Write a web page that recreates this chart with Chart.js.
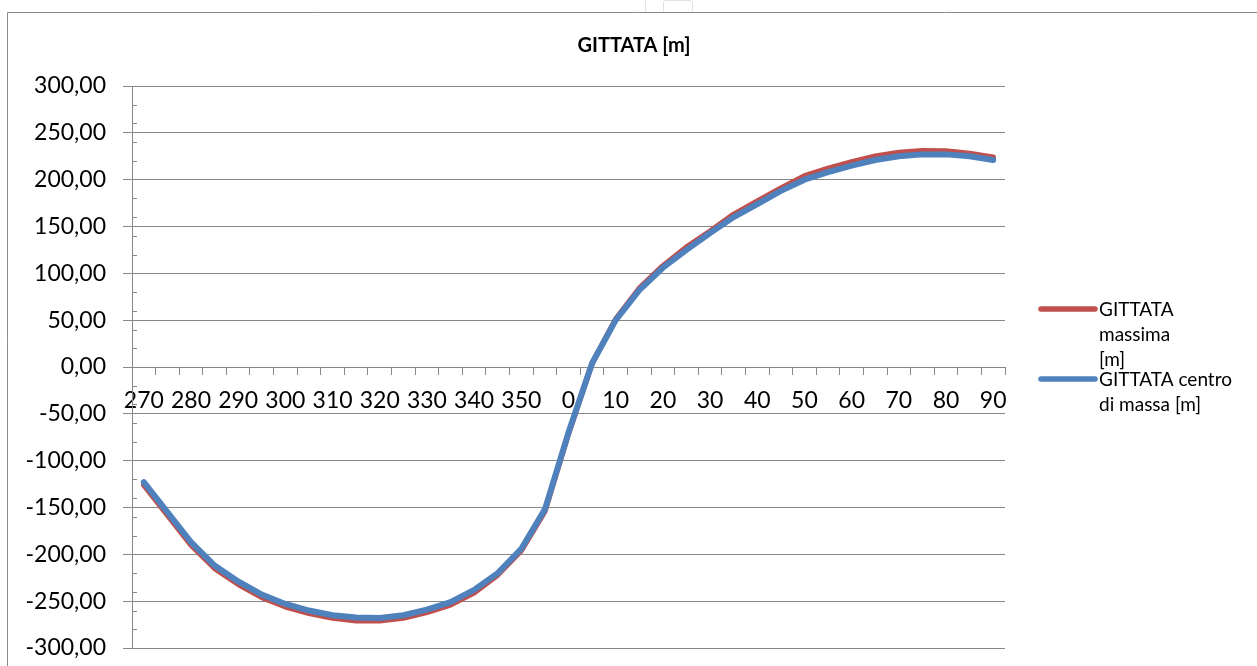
<!DOCTYPE html>
<html>
<head>
<meta charset="utf-8">
<title>GITTATA [m]</title>
<script src="https://cdn.jsdelivr.net/npm/chart.js@4.4.1/dist/chart.umd.min.js"></script>
<style>
  html, body { margin: 0; padding: 0; background: #ffffff; }
  #wrap { width: 1257px; height: 666px; position: relative; }
</style>
</head>
<body>
<div id="wrap"><canvas id="chart" width="1257" height="666"></canvas></div>
<script>
// Angles (degrees) along the category axis
const angles = [270, 275, 280, 285, 290, 295, 300, 305, 310, 315, 320, 325, 330, 335, 340, 345, 350, 355,
                0, 5, 10, 15, 20, 25, 30, 35, 40, 45, 50, 55, 60, 65, 70, 75, 80, 85, 90];

// GITTATA massima [m]
const gittataMassima = [-126, -158, -190, -215, -232, -246, -256, -263, -268, -271, -271, -268, -262, -254, -241, -222, -196, -154,
                        -71, 4, 51, 84, 108, 128, 145, 163, 177, 191, 204, 212, 219, 225, 229, 231, 230.5, 228, 224];

// GITTATA centro di massa [m]
const gittataCentro = [-123, -155, -187, -212, -229, -243, -253, -260, -265, -267.5, -268, -265, -259, -251, -238, -220, -194, -152,
                       -70, 4, 50, 82, 106, 125, 143, 160, 174, 188, 200, 208, 215, 221, 225, 227, 227, 225, 221];

const seriesLabels = ['GITTATA massima [m]', 'GITTATA centro di massa [m]'];
// legend text broken into the lines it is shown on
const legendLines = [['GITTATA', 'massima', '[m]'], ['GITTATA centro', 'di massa [m]']];
const seriesColors = ['#C0504D', '#4F81BD'];
const chartTitle = 'GITTATA [m]';

const GRID = '#878787';

// White background, outer frame and title
const framePlugin = {
  id: 'frame',
  beforeDraw(chart) {
    const ctx = chart.ctx;
    ctx.save();
    ctx.fillStyle = '#ffffff';
    ctx.fillRect(0, 0, chart.width, chart.height);
    ctx.strokeStyle = '#e2e2e2';
    ctx.lineWidth = 1;
    ctx.beginPath();
    ctx.moveTo(645.5, 0); ctx.lineTo(645.5, 12);
    ctx.moveTo(663.5, 12); ctx.lineTo(663.5, 3); ctx.quadraticCurveTo(663.5, 0.5, 666, 0.5);
    ctx.lineTo(690, 0.5); ctx.quadraticCurveTo(692.5, 0.5, 692.5, 3); ctx.lineTo(692.5, 12);
    ctx.stroke();
    ctx.strokeStyle = '#8c8c8c';
    ctx.beginPath();
    ctx.moveTo(7.5, chart.height);
    ctx.lineTo(7.5, 12.5);
    ctx.lineTo(chart.width, 12.5);
    ctx.stroke();
    ctx.restore();
  },
  afterDraw(chart) {
    const ctx = chart.ctx;
    ctx.save();
    ctx.fillStyle = '#000000';
    ctx.font = 'bold 20px Lato';
    ctx.textAlign = 'center';
    ctx.textBaseline = 'middle';
    ctx.fillText(chartTitle, 634, 46);
    ctx.restore();
  }
};

// Minor tick marks every 20 m on the inner side of the value axis
const minorTicksPlugin = {
  id: 'minorTicks',
  afterDatasetsDraw(chart) {
    const y = chart.scales.y;
    const ctx = chart.ctx;
    const left = chart.chartArea.left;
    ctx.save();
    ctx.strokeStyle = GRID;
    ctx.lineWidth = 1;
    ctx.beginPath();
    for (let v = y.min; v <= y.max; v += 20) {
      if (v % 50 === 0) continue;
      const py = Math.round(y.getPixelForValue(v)) + 0.5;
      ctx.moveTo(left, py);
      ctx.lineTo(left + 5, py);
    }
    ctx.stroke();
    ctx.restore();
  }
};

// Legend on the right
const sideLegendPlugin = {
  id: 'sideLegend',
  afterDraw(chart) {
    const ctx = chart.ctx;
    const lineX0 = 1041, lineX1 = 1095, textX = 1099, lineH = 25;
    const rowY = [309, 379];
    ctx.save();
    ctx.font = '19px Lato';
    ctx.textBaseline = 'middle';
    ctx.textAlign = 'left';
    chart.data.datasets.forEach((ds, i) => {
      const yy = rowY[i];
      ctx.strokeStyle = ds.borderColor;
      ctx.lineWidth = 5.5;
      ctx.lineCap = 'round';
      ctx.beginPath();
      ctx.moveTo(lineX0, yy);
      ctx.lineTo(lineX1, yy);
      ctx.stroke();
      ctx.fillStyle = '#000000';
      legendLines[i].forEach((ln, k) => ctx.fillText(ln, textX, yy + 1 + k * lineH));
    });
    ctx.restore();
  }
};

function fmt(v) {
  return v.toFixed(2).replace('.', ',');
}

function zeroVerticalPadding(scale) {
  scale.paddingTop = 0;
  scale.paddingBottom = 0;
}

function build() {
  Chart.defaults.font.family = 'Lato';
  Chart.defaults.color = '#000000';
  new Chart(document.getElementById('chart'), {
    type: 'line',
    data: {
      labels: angles.map(String),
      datasets: [
        {
          label: seriesLabels[0],
          data: gittataMassima,
          borderColor: seriesColors[0],
          backgroundColor: seriesColors[0],
          borderWidth: 5.5,
          pointRadius: 0,
          tension: 0,
          borderCapStyle: 'round',
          borderJoinStyle: 'round',
          order: 1
        },
        {
          label: seriesLabels[1],
          data: gittataCentro,
          borderColor: seriesColors[1],
          backgroundColor: seriesColors[1],
          borderWidth: 6,
          pointRadius: 0,
          tension: 0,
          borderCapStyle: 'round',
          borderJoinStyle: 'round',
          order: 0
        }
      ]
    },
    options: {
      responsive: false,
      animation: false,
      layout: { padding: { left: 0, right: 252, top: 86, bottom: 18 } },
      plugins: {
        legend: { display: false },
        title: { display: false },
        tooltip: { enabled: false }
      },
      scales: {
        x: {
          type: 'category',
          position: { y: 0 },
          offset: true,
          afterFit: function (scale) { zeroVerticalPadding(scale); scale.height = 0; },
          grid: {
            display: true,
            drawOnChartArea: false,
            drawTicks: true,
            tickLength: 7,
            offset: true,
            color: GRID
          },
          border: { display: true, color: GRID, width: 1 },
          ticks: {
            autoSkip: false,
            maxRotation: 0,
            minRotation: 0,
            padding: 13,
            font: { size: 23 },
            color: '#000000',
            callback: function (val, idx) {
              const a = angles[idx];
              return a % 10 === 0 ? String(a) : '';
            }
          }
        },
        y: {
          min: -300,
          max: 300,
          afterFit: function (scale) { scale.width = 132; zeroVerticalPadding(scale); },
          grid: {
            color: GRID,
            lineWidth: 1,
            drawTicks: true,
            tickLength: 9
          },
          border: { display: true, color: GRID, width: 1 },
          ticks: {
            stepSize: 50,
            padding: 17,
            font: { size: 23 },
            color: '#000000',
            callback: function (v) { return fmt(v); }
          }
        }
      }
    },
    plugins: [framePlugin, minorTicksPlugin, sideLegendPlugin]
  });
}

if (document.fonts && document.fonts.load) {
  Promise.all([
    document.fonts.load('23px Lato'),
    document.fonts.load('bold 20px Lato')
  ]).then(build, build);
} else {
  build();
}
</script>
</body>
</html>
